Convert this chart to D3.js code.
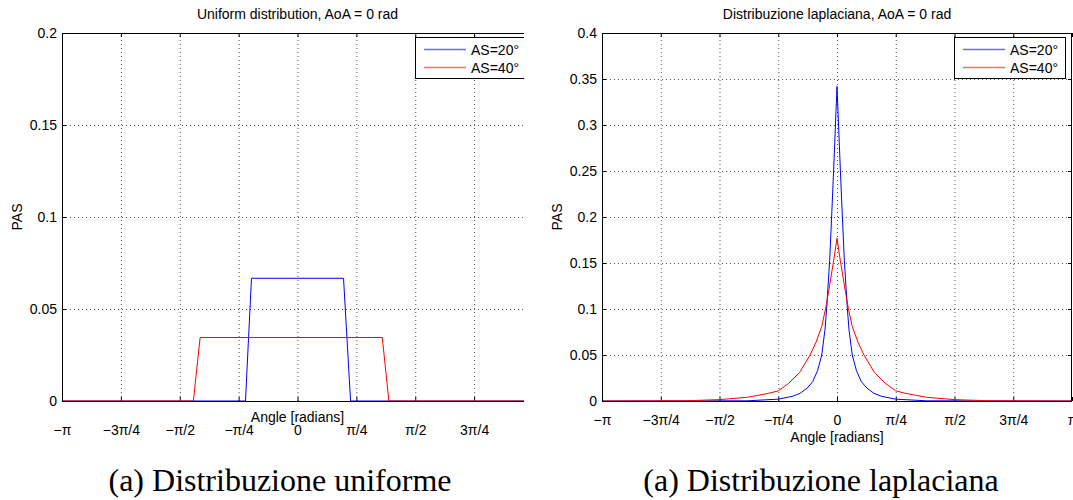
<!DOCTYPE html>
<html>
<head>
<meta charset="utf-8">
<script src="https://d3js.org/d3.v7.min.js"></script>
<style>
  body { margin: 0; background: #fff; }
  text { font-family: "Liberation Sans", Arial, sans-serif; fill: #000; }
</style>
</head>
<body>
<div id="my_dataviz"></div>
<script>
  // x ticks, in multiples of pi
  const piFractions = [-1, -0.75, -0.5, -0.25, 0, 0.25, 0.5, 0.75, 1];
  const piLabels = ["−π", "−3π/4", "−π/2", "−π/4", "0", "π/4", "π/2", "3π/4", "π"];

  const seriesNames = ["AS=20°", "AS=40°"];

  // uniform distribution (angle in rad, PAS)
  const uniAngle20 = [-3.1416, -0.694, -0.614, 0.614, 0.708, 3.1416];
  const uniPas20 = [0, 0, 0.0667, 0.0667, 0, 0];
  const uniAngle40 = [-3.1416, -1.389, -1.299, 1.131, 1.219, 3.1416];
  const uniPas40 = [0, 0, 0.0345, 0.0345, 0, 0];
  const uniYTicks = [0, 0.05, 0.1, 0.15, 0.2];
  const uniYLabels = ["0", "0.05", "0.1", "0.15", "0.2"];

  // laplacian distribution
  const lapAngle20 = [-3.1416, -1.2, -0.785, -0.6, -0.494, -0.4, -0.325, -0.26, -0.204, -0.16, -0.138, -0.098, -0.071, -0.045, 0,
                      0.045, 0.071, 0.098, 0.138, 0.16, 0.204, 0.26, 0.325, 0.4, 0.494, 0.6, 0.785, 1.2, 3.1416];
  const lapPas20 = [0, 0.0002, 0.002, 0.005, 0.0083, 0.014, 0.021, 0.033, 0.05, 0.078, 0.101, 0.153, 0.202, 0.251, 0.342,
                    0.251, 0.202, 0.153, 0.101, 0.078, 0.05, 0.033, 0.021, 0.014, 0.0083, 0.005, 0.002, 0.0002, 0];
  const lapAngle40 = [-3.1416, -2.0, -1.571, -1.2, -0.917, -0.785, -0.65, -0.5, -0.36, -0.28, -0.204, -0.151, -0.1, -0.044, 0,
                      0.044, 0.1, 0.151, 0.204, 0.28, 0.36, 0.5, 0.65, 0.785, 0.917, 1.2, 1.571, 2.0, 3.1416];
  const lapPas40 = [0, 0.0003, 0.0015, 0.004, 0.0083, 0.011, 0.019, 0.031, 0.05, 0.064, 0.081, 0.101, 0.125, 0.153, 0.177,
                    0.153, 0.125, 0.101, 0.081, 0.064, 0.05, 0.031, 0.019, 0.011, 0.0083, 0.004, 0.0015, 0.0003, 0];
  const lapYTicks = [0, 0.05, 0.1, 0.15, 0.2, 0.25, 0.3, 0.35, 0.4];
  const lapYLabels = ["0", "0.05", "0.1", "0.15", "0.2", "0.25", "0.3", "0.35", "0.4"];

  const colors = ["#0000ff", "#ff0000"];
  const legendColors = ["#6b6bff", "#ff6b6b"];

  const svg = d3.select("#my_dataviz")
    .append("svg")
      .attr("width", 1073)
      .attr("height", 500);

  const plotTop = 33, plotBottom = 401;

  function drawPanel(p) {
    const g = svg.append("g");
    if (p.clipAt) {
      svg.append("clipPath").attr("id", p.id + "-clip")
        .append("rect").attr("x", 0).attr("y", 0).attr("width", p.clipAt).attr("height", 460);
      g.attr("clip-path", `url(#${p.id}-clip)`);
    }

    const x = d3.scaleLinear().domain([-Math.PI, Math.PI]).range([p.left, p.right]);
    const y = d3.scaleLinear().domain([0, p.yTicks[p.yTicks.length - 1]]).range([plotBottom, plotTop]);
    const xTicks = piFractions.map(f => f * Math.PI);

    // dotted grid
    g.append("g")
      .attr("transform", `translate(0, ${plotBottom})`)
      .call(d3.axisBottom(x).tickValues(xTicks.slice(1, -1)).tickSize(-(plotBottom - plotTop)).tickFormat(""))
      .call(a => a.select(".domain").remove())
      .selectAll("line").attr("stroke", "#555").attr("stroke-dasharray", "1,3");
    g.append("g")
      .attr("transform", `translate(${p.left}, 0)`)
      .call(d3.axisLeft(y).tickValues(p.yTicks.slice(1, -1)).tickSize(-(p.right - p.left)).tickFormat(""))
      .call(a => a.select(".domain").remove())
      .selectAll("line").attr("stroke", "#555").attr("stroke-dasharray", "1,3");

    // inward ticks on all four sides
    g.append("g")
      .attr("transform", `translate(0, ${plotBottom})`)
      .call(d3.axisBottom(x).tickValues(xTicks).tickSize(-4).tickPadding(p.xPad).tickFormat((d, i) => piLabels[i]))
      .call(a => a.select(".domain").remove())
      .call(a => a.selectAll("text").style("font-size", "14px").attr("fill", "#000"));
    g.append("g")
      .attr("transform", `translate(0, ${plotTop})`)
      .call(d3.axisTop(x).tickValues(xTicks).tickSize(-4).tickFormat(""))
      .call(a => a.select(".domain").remove());
    g.append("g")
      .attr("transform", `translate(${p.left}, 0)`)
      .call(d3.axisLeft(y).tickValues(p.yTicks).tickSize(-4).tickPadding(5).tickFormat((d, i) => p.yLabels[i]))
      .call(a => a.select(".domain").remove())
      .call(a => a.selectAll("text").style("font-size", "14px").attr("fill", "#000"));
    g.append("g")
      .attr("transform", `translate(${p.right}, 0)`)
      .call(d3.axisRight(y).tickValues(p.yTicks).tickSize(-4).tickFormat(""))
      .call(a => a.select(".domain").remove());

    // lines
    const line = d3.line().x(d => x(d[0])).y(d => y(d[1]));
    p.series.forEach((s, i) => {
      g.append("path")
        .datum(d3.zip(s.angle, s.pas))
        .attr("fill", "none")
        .attr("stroke", colors[i])
        .attr("stroke-width", 1)
        .attr("d", line);
    });

    // box
    g.append("rect")
      .attr("x", p.left + 0.5).attr("y", plotTop + 0.5)
      .attr("width", p.right - p.left - 1).attr("height", plotBottom - plotTop)
      .attr("fill", "none").attr("stroke", "#000");

    // legend
    const lg = g.append("g").attr("transform", `translate(${p.legendX}, 37)`);
    lg.append("rect")
      .attr("x", 0.5).attr("y", 0.5).attr("width", 111).attr("height", 41)
      .attr("fill", "#fff").attr("stroke", "#000");
    seriesNames.forEach((name, i) => {
      lg.append("line")
        .attr("x1", 9).attr("x2", 51)
        .attr("y1", 12.5 + i * 18).attr("y2", 12.5 + i * 18)
        .style("stroke", legendColors[i]).style("stroke-width", 1.5);
      lg.append("text")
        .attr("x", 56).attr("y", 17.5 + i * 18)
        .style("font-size", "14px")
        .text(name);
    });

    // texts
    svg.append("text")
      .attr("x", (p.left + p.right) / 2).attr("y", 19)
      .attr("text-anchor", "middle")
      .style("font-size", "14px")
      .text(p.title);
    svg.append("text")
      .attr("x", (p.left + p.right) / 2).attr("y", p.xLabelY)
      .attr("text-anchor", "middle")
      .style("font-size", "14px")
      .text("Angle [radians]");
    svg.append("text")
      .attr("transform", `translate(${p.left - 40}, ${(plotTop + plotBottom) / 2}) rotate(-90)`)
      .attr("text-anchor", "middle")
      .style("font-size", "14px")
      .text("PAS");
    svg.append("text")
      .attr("x", p.captionX).attr("y", 491)
      .attr("text-anchor", "middle")
      .style("font-family", "'Liberation Serif', serif")
      .style("font-size", "32px")
      .text(p.caption);
  }

  drawPanel({
    id: "uni", left: 62, right: 533, clipAt: 524,
    yTicks: uniYTicks, yLabels: uniYLabels, xPad: 24, xLabelY: 422,
    series: [{angle: uniAngle20, pas: uniPas20}, {angle: uniAngle40, pas: uniPas40}],
    legendX: 415, title: "Uniform distribution, AoA = 0 rad",
    caption: "(a) Distribuzione uniforme", captionX: 280
  });

  drawPanel({
    id: "lap", left: 602, right: 1072,
    yTicks: lapYTicks, yLabels: lapYLabels, xPad: 14, xLabelY: 442,
    series: [{angle: lapAngle20, pas: lapPas20}, {angle: lapAngle40, pas: lapPas40}],
    legendX: 954, title: "Distribuzione laplaciana, AoA = 0 rad",
    caption: "(a) Distribuzione laplaciana", captionX: 821
  });
</script>
</body>
</html>
